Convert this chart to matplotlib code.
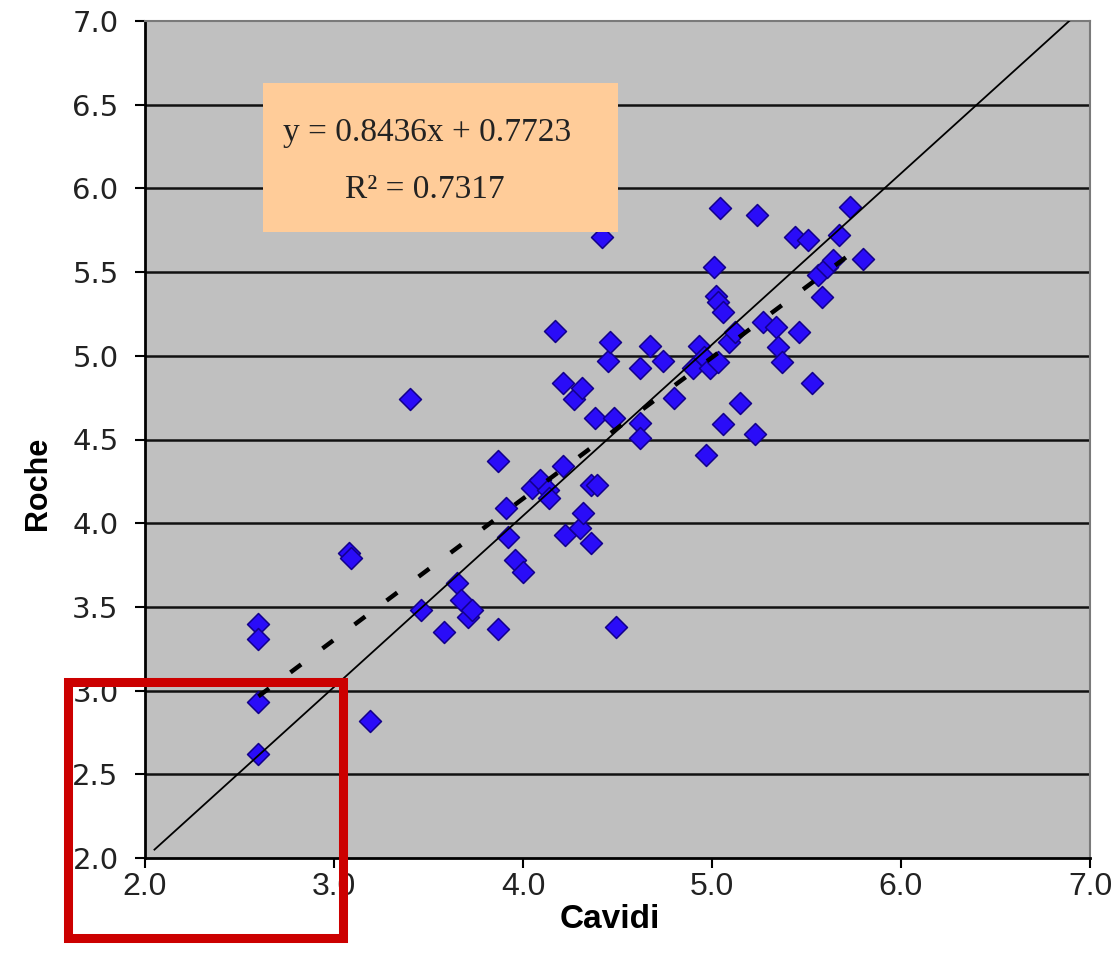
import matplotlib
matplotlib.use("Agg")
import matplotlib.pyplot as plt
from matplotlib.patches import Rectangle

cavidi = [2.60, 2.60, 2.60, 2.60, 3.08, 3.09, 3.19, 3.40, 3.46, 3.58,
          3.65, 3.67, 3.71, 3.73, 3.87, 3.87, 3.91, 3.92, 3.96, 4.00,
          4.05, 4.09, 4.13, 4.14, 4.17, 4.21, 4.21, 4.22, 4.27, 4.30,
          4.31, 4.32, 4.36, 4.39, 4.36, 4.38, 4.42, 4.45, 4.46, 4.48,
          4.49, 4.62, 4.62, 4.62, 4.67, 4.74, 4.80, 4.90, 4.93, 4.96,
          4.97, 4.99, 5.01, 5.02, 5.03, 5.03, 5.04, 5.06, 5.06, 5.09,
          5.12, 5.15, 5.23, 5.24, 5.27, 5.34, 5.35, 5.37, 5.44, 5.46,
          5.51, 5.53, 5.56, 5.58, 5.61, 5.64, 5.67, 5.73, 5.80]
roche = [3.40, 3.31, 2.93, 2.62, 3.82, 3.79, 2.82, 4.74, 3.48, 3.35,
         3.64, 3.54, 3.44, 3.48, 3.37, 4.37, 4.09, 3.92, 3.78, 3.71,
         4.21, 4.26, 4.20, 4.15, 5.15, 4.84, 4.34, 3.93, 4.74, 3.97,
         4.81, 4.06, 4.23, 4.23, 3.88, 4.63, 5.71, 4.97, 5.08, 4.63,
         3.38, 4.60, 4.51, 4.93, 5.06, 4.97, 4.75, 4.93, 5.06, 4.99,
         4.41, 4.93, 5.53, 5.36, 5.32, 4.96, 5.88, 5.26, 4.59, 5.08,
         5.14, 4.72, 4.53, 5.84, 5.20, 5.17, 5.05, 4.96, 5.71, 5.14,
         5.69, 4.84, 5.48, 5.35, 5.53, 5.57, 5.72, 5.89, 5.58]

# trendline from the equation shown on the chart
slope = 0.8436
intercept = 0.7723
r_squared = 0.7317
fit_x = [2.60, 5.80]

# hand-drawn reference line
ref_x = [2.05, 6.89]
ref_y = [2.05, 7.00]

ticks = [2.0, 2.5, 3.0, 3.5, 4.0, 4.5, 5.0, 5.5, 6.0, 6.5, 7.0]
xticks = [2.0, 3.0, 4.0, 5.0, 6.0, 7.0]

fig = plt.figure(figsize=(11.2, 9.55), dpi=100)
ax = fig.add_axes([145 / 1120, 1 - 858 / 955, 945 / 1120, 837 / 955])
ax.set_facecolor("#c0c0c0")
ax.set_xlim(2.0, 7.0)
ax.set_ylim(2.0, 7.0)

for t in ticks[1:-1]:
    ax.axhline(t, color="#111111", lw=1.8, zorder=1)

ax.scatter(cavidi, roche, marker="D", s=125, color="#2a0cf8",
           edgecolors="#12008a", linewidths=1.1, zorder=3)

fit_y = [slope * v + intercept for v in fit_x]
ax.plot(fit_x, fit_y, color="black", lw=3.2, dashes=(3, 6),
        dash_capstyle="butt", zorder=4)
ax.plot(ref_x, ref_y, color="black", lw=1.3, zorder=4)

# equation box
ax.add_patch(Rectangle((2.625, 5.74), 1.875, 0.89, facecolor="#ffcc99",
                       edgecolor="none", zorder=5))
ax.text(3.49, 6.33, f"y = {slope}x + {intercept}", ha="center", va="center",
        family="Liberation Serif", fontsize=24, color="#222222", zorder=6)
ax.text(3.48, 5.99, f"R\u00b2 = {r_squared}", ha="center", va="center",
        family="Liberation Serif", fontsize=24, color="#222222", zorder=6)

# red highlight box
ax.add_patch(Rectangle((1.59, 1.52), 1.46, 1.53, facecolor="none",
                       edgecolor="#cc0000", lw=6.5, clip_on=False,
                       zorder=10))

ax.set_yticks(ticks)
ax.set_yticklabels([f"{t:.1f}" for t in ticks], family="DejaVu Sans",
                   fontsize=21, color="#222222")
ax.set_xticks(xticks)
ax.set_xticklabels([f"{t:.1f}" for t in xticks], family="Liberation Sans",
                   fontsize=23, color="#222222")
ax.tick_params(axis="y", direction="out", length=7, width=1.5, pad=12)
ax.tick_params(axis="x", direction="out", length=7, width=1.5, pad=3)

for side in ("left", "bottom"):
    ax.spines[side].set_color("black")
    ax.spines[side].set_linewidth(2)
for side in ("top", "right"):
    ax.spines[side].set_color("#7a7a7a")
    ax.spines[side].set_linewidth(1.5)

ax.set_xlabel("Cavidi", family="Liberation Sans", fontweight="bold",
              fontsize=24, va="center")
ax.set_ylabel("Roche", family="Liberation Sans", fontweight="bold",
              fontsize=22, va="center")
ax.xaxis.set_label_coords(0.492, -0.074)
ax.yaxis.set_label_coords(-0.113, 0.448)

fig.savefig("out.png", dpi=100)
